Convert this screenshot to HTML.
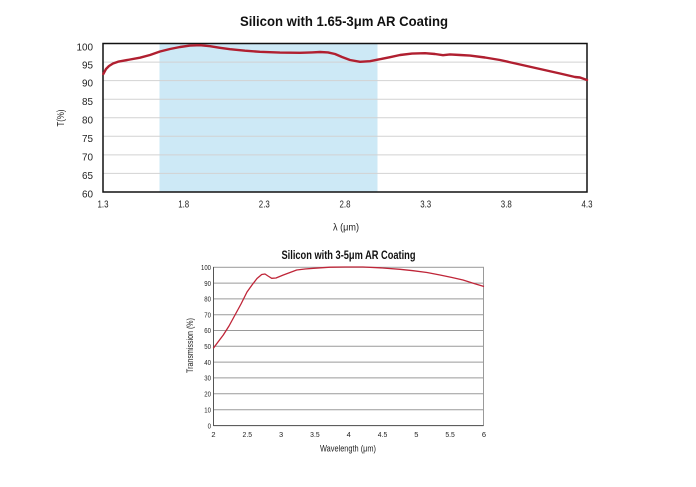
<!DOCTYPE html>
<html><head><meta charset="utf-8"><style>
html,body{margin:0;padding:0;background:#fff;}
svg{display:block;}
text{font-family:"Liberation Sans","DejaVu Sans",sans-serif;fill:#222;}
</style></head><body>
<svg width="696" height="487" viewBox="0 0 696 487" xmlns="http://www.w3.org/2000/svg">
<rect width="696" height="487" fill="#fff"/>
<!-- TOP CHART -->
<text x="344" y="26" font-size="14" font-weight="bold" text-anchor="middle" textLength="208" lengthAdjust="spacingAndGlyphs" style="fill:#111">Silicon with 1.65-3μm AR Coating</text>
<rect x="159.5" y="43.5" width="218" height="148.5" fill="#cde9f6"/>
<g stroke="#d2d2d2" stroke-width="1">
<line x1="103" x2="587" y1="62.1" y2="62.1"/>
<line x1="103" x2="587" y1="80.6" y2="80.6"/>
<line x1="103" x2="587" y1="99.2" y2="99.2"/>
<line x1="103" x2="587" y1="117.8" y2="117.8"/>
<line x1="103" x2="587" y1="136.3" y2="136.3"/>
<line x1="103" x2="587" y1="154.9" y2="154.9"/>
<line x1="103" x2="587" y1="173.4" y2="173.4"/>
</g>
<rect x="103" y="43.5" width="484" height="148.5" fill="none" stroke="#111" stroke-width="1.5"/>
<polyline fill="none" stroke="#b01f30" stroke-width="2.4" stroke-linejoin="round" stroke-linecap="round" points="103.3,74 106,69 109,66 113,63.5 118,61.7 130,59.5 140,57.7 150,55 160,51.5 170,49 180,47 190,45.6 200,45.2 210,46.2 220,47.8 230,49.2 245,50.7 260,51.8 280,52.6 300,52.8 312,52.4 320,52 328,52.4 335,54 342,57 350,60 360,61.8 370,61.2 378,59.6 390,57.2 400,55 412,53.6 425,53.2 435,54 443,55.2 450,54.4 460,55 470,55.6 485,57.5 500,60 520,64.5 540,69 560,73.5 575,77 580,77.5 587,80"/>
<g font-size="10.5" text-anchor="end" style="fill:#222">
<text x="93" y="50.5" textLength="16.5" lengthAdjust="spacingAndGlyphs">100</text>
<text x="93" y="68.5" textLength="11" lengthAdjust="spacingAndGlyphs">95</text>
<text x="93" y="86.5" textLength="11" lengthAdjust="spacingAndGlyphs">90</text>
<text x="93" y="105" textLength="11" lengthAdjust="spacingAndGlyphs">85</text>
<text x="93" y="123.5" textLength="11" lengthAdjust="spacingAndGlyphs">80</text>
<text x="93" y="142" textLength="11" lengthAdjust="spacingAndGlyphs">75</text>
<text x="93" y="160.5" textLength="11" lengthAdjust="spacingAndGlyphs">70</text>
<text x="93" y="179" textLength="11" lengthAdjust="spacingAndGlyphs">65</text>
<text x="93" y="197.5" textLength="11" lengthAdjust="spacingAndGlyphs">60</text>
</g>
<g font-size="10.5" text-anchor="middle">
<text x="103" y="207.5" textLength="11" lengthAdjust="spacingAndGlyphs">1.3</text>
<text x="183.7" y="207.5" textLength="11" lengthAdjust="spacingAndGlyphs">1.8</text>
<text x="264.3" y="207.5" textLength="11" lengthAdjust="spacingAndGlyphs">2.3</text>
<text x="345" y="207.5" textLength="11" lengthAdjust="spacingAndGlyphs">2.8</text>
<text x="425.7" y="207.5" textLength="11" lengthAdjust="spacingAndGlyphs">3.3</text>
<text x="506.3" y="207.5" textLength="11" lengthAdjust="spacingAndGlyphs">3.8</text>
<text x="587" y="207.5" textLength="11" lengthAdjust="spacingAndGlyphs">4.3</text>
</g>
<text x="346" y="230.5" font-size="10.5" text-anchor="middle" textLength="26" lengthAdjust="spacingAndGlyphs">λ (μm)</text>
<text transform="translate(64,118) rotate(-90)" font-size="10" text-anchor="middle" textLength="17" lengthAdjust="spacingAndGlyphs">T(%)</text>

<!-- BOTTOM CHART -->
<text x="348.5" y="259" font-size="12" font-weight="bold" text-anchor="middle" textLength="134" lengthAdjust="spacingAndGlyphs" style="fill:#111">Silicon with 3-5μm AR Coating</text>
<g stroke="#9a9a9a" stroke-width="1">
<line x1="213.5" x2="483.5" y1="283.1" y2="283.1"/>
<line x1="213.5" x2="483.5" y1="298.9" y2="298.9"/>
<line x1="213.5" x2="483.5" y1="314.7" y2="314.7"/>
<line x1="213.5" x2="483.5" y1="330.5" y2="330.5"/>
<line x1="213.5" x2="483.5" y1="346.3" y2="346.3"/>
<line x1="213.5" x2="483.5" y1="362.1" y2="362.1"/>
<line x1="213.5" x2="483.5" y1="377.9" y2="377.9"/>
<line x1="213.5" x2="483.5" y1="393.7" y2="393.7"/>
<line x1="213.5" x2="483.5" y1="409.7" y2="409.7"/>
</g>
<rect x="213.5" y="267.3" width="270" height="158.2" fill="none" stroke="#9a9a9a" stroke-width="1"/>
<line x1="213.5" x2="213.5" y1="267" y2="426" stroke="#555" stroke-width="1"/>
<line x1="213.5" x2="483.5" y1="425.6" y2="425.6" stroke="#555" stroke-width="1"/>
<polyline fill="none" stroke="#bf2538" stroke-width="1.3" stroke-linejoin="round" points="213.3,348.3 218,342 223.3,335 229,326 235,315 241,304 247,292 252,285 257,278.5 261.7,274.5 265,274 268,276 271.7,278.3 276,278 283.3,275 290,272.5 296.7,270 305,269 313.3,268.3 330,267.2 345,267 363,267 380,267.8 400,269.3 413,270.7 427,272.5 440,275 452,277.5 463,280 474,283.5 484,286.5"/>
<g font-size="7.5" text-anchor="end">
<text x="211" y="270" textLength="10" lengthAdjust="spacingAndGlyphs">100</text>
<text x="211" y="285.8" textLength="6.7" lengthAdjust="spacingAndGlyphs">90</text>
<text x="211" y="301.6" textLength="6.7" lengthAdjust="spacingAndGlyphs">80</text>
<text x="211" y="317.4" textLength="6.7" lengthAdjust="spacingAndGlyphs">70</text>
<text x="211" y="333.2" textLength="6.7" lengthAdjust="spacingAndGlyphs">60</text>
<text x="211" y="349" textLength="6.7" lengthAdjust="spacingAndGlyphs">50</text>
<text x="211" y="364.8" textLength="6.7" lengthAdjust="spacingAndGlyphs">40</text>
<text x="211" y="380.6" textLength="6.7" lengthAdjust="spacingAndGlyphs">30</text>
<text x="211" y="396.4" textLength="6.7" lengthAdjust="spacingAndGlyphs">20</text>
<text x="211" y="412.4" textLength="6.7" lengthAdjust="spacingAndGlyphs">10</text>
<text x="211" y="428.3" textLength="3.4" lengthAdjust="spacingAndGlyphs">0</text>
</g>
<g font-size="7.5" text-anchor="middle">
<text x="213.5" y="437">2</text>
<text x="247.3" y="437" textLength="9.5" lengthAdjust="spacingAndGlyphs">2.5</text>
<text x="281.1" y="437">3</text>
<text x="314.9" y="437" textLength="9.5" lengthAdjust="spacingAndGlyphs">3.5</text>
<text x="348.7" y="437">4</text>
<text x="382.5" y="437" textLength="9.5" lengthAdjust="spacingAndGlyphs">4.5</text>
<text x="416.3" y="437">5</text>
<text x="450.1" y="437" textLength="9.5" lengthAdjust="spacingAndGlyphs">5.5</text>
<text x="483.9" y="437">6</text>
</g>
<text x="348" y="451.5" font-size="9" text-anchor="middle" textLength="56" lengthAdjust="spacingAndGlyphs">Wavelength (μm)</text>
<text transform="translate(193,345.5) rotate(-90)" font-size="9" text-anchor="middle" textLength="55" lengthAdjust="spacingAndGlyphs">Transmission (%)</text>
</svg>
</body></html>
